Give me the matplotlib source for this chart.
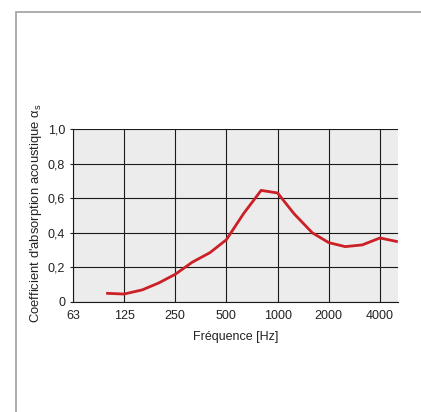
import matplotlib
matplotlib.use('Agg')
import matplotlib.pyplot as plt
from matplotlib.patches import Rectangle

plt.rcParams['font.family'] = ['Liberation Sans', 'DejaVu Sans']
plt.rcParams['mathtext.fontset'] = 'custom'
plt.rcParams['mathtext.rm'] = 'Liberation Sans'

# third-octave bands and absorption coefficient
freqs = [100, 125, 160, 200, 250, 315, 400, 500, 630, 800, 1000, 1250, 1600, 2000, 2500, 3150, 4000, 5000]
alpha = [0.05, 0.046, 0.07, 0.11, 0.16, 0.23, 0.285, 0.36, 0.51, 0.645, 0.63, 0.51, 0.40, 0.343, 0.32, 0.33, 0.37, 0.35]

tick_pos = [62.5, 125, 250, 500, 1000, 2000, 4000]
tick_labels = ['63', '125', '250', '500', '1000', '2000', '4000']
y_ticks = [0, 0.2, 0.4, 0.6, 0.8, 1.0]
y_labels = ['0', '0,2', '0,4', '0,6', '0,8', '1,0']

fig = plt.figure(figsize=(4.21, 4.12), dpi=100)

# grey frame around the card
fig.patches.append(Rectangle((16 / 421, -0.1), 1.2, (412 - 12) / 412 + 0.1,
                             transform=fig.transFigure, fill=False,
                             edgecolor='#a0a0a0', linewidth=1.2))

ax = fig.add_axes([0.173, 0.267, 0.772, 0.42])
ax.set_facecolor('#ececec')
ax.set_xscale('log', base=2)
ax.set_xlim(62.5, 5096)
ax.set_ylim(0, 1.0)

ax.set_xticks(tick_pos)
ax.set_xticklabels(tick_labels)
ax.set_xticks([], minor=True)
ax.set_yticks(y_ticks)
ax.set_yticklabels(y_labels)

ax.grid(True, color='#1a1a1a', linewidth=0.8)
ax.set_axisbelow(True)
for s in ['top', 'right']:
    ax.spines[s].set_visible(False)
for s in ['left', 'bottom']:
    ax.spines[s].set_color('#1a1a1a')
    ax.spines[s].set_linewidth(0.8)

ax.tick_params(axis='x', length=0, pad=6, labelsize=9, colors='#222222')
ax.tick_params(axis='y', length=2.5, width=0.8, pad=3, labelsize=9, colors='#222222')

ax.plot(freqs, alpha, color='#cc1f26', linewidth=2.0, solid_joinstyle='round', clip_on=False, zorder=3)

ax.set_ylabel("Coefficient d'absorption acoustique α$_\\mathrm{s}$", fontsize=9.4, color='#222222')
ax.yaxis.set_label_coords(-0.088, 0.515)
ax.set_xlabel('Fréquence [Hz]', fontsize=9, color='#222222')
ax.xaxis.set_label_coords(0.5, -0.17)

fig.savefig('out.png', dpi=100)
